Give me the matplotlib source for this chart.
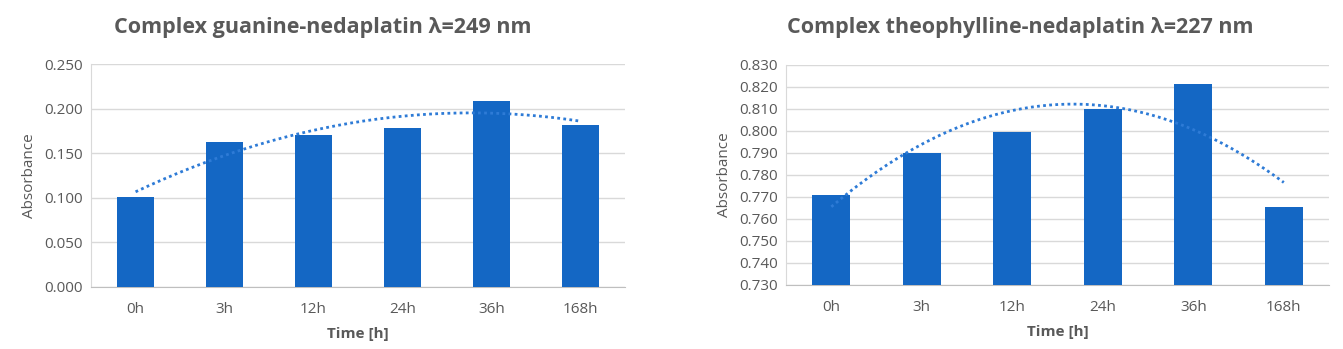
import numpy as np
import matplotlib.pyplot as plt

# data
times = ["0h", "3h", "12h", "24h", "36h", "168h"]
guanine_abs = [0.101, 0.162, 0.170, 0.178, 0.209, 0.182]
theoph_abs = [0.771, 0.790, 0.7995, 0.810, 0.8215, 0.7655]

titles = ["Complex guanine-nedaplatin λ=249 nm",
          "Complex theophylline-nedaplatin λ=227 nm"]
y_ticks_left = [0.000, 0.050, 0.100, 0.150, 0.200, 0.250]
y_ticks_right = [0.730, 0.740, 0.750, 0.760, 0.770, 0.780, 0.790,
                 0.800, 0.810, 0.820, 0.830]

bar_color = "#1467C4"
trend_color = "#2E7BD6"
text_color = "#595959"
grid_color = "#D9D9D9"

plt.rcParams['font.family'] = ['Open Sans', 'DejaVu Sans']

fig = plt.figure(figsize=(13.43, 3.49), dpi=100)
ax1 = fig.add_axes([0.0678, 0.1777, 0.3976, 0.6389])
ax2 = fig.add_axes([0.5853, 0.1834, 0.4043, 0.6304])


def draw_panel(ax, values, yticks, title, title_x):
    x = np.arange(len(times))
    ax.bar(x, values, width=0.42, color=bar_color, zorder=3)
    # Excel style 2nd order polynomial trendline
    coef = np.polyfit(x + 1, values, 2)
    xs = np.linspace(0, len(times) - 1, 200)
    ax.plot(xs, np.polyval(coef, xs + 1), linestyle=(0, (1, 1.2)),
            color=trend_color, linewidth=2, zorder=4)
    ax.set_xlim(-0.5, len(times) - 0.5)
    ax.set_ylim(yticks[0], yticks[-1])
    ax.set_yticks(yticks)
    ax.set_yticklabels([f"{t:.3f}" for t in yticks])
    ax.set_xticks(x)
    ax.set_xticklabels(times)
    ax.tick_params(colors=text_color, labelsize=11, length=0, pad=6)
    ax.tick_params(axis='x', pad=11)
    ax.grid(axis='y', color=grid_color, linewidth=1, zorder=0)
    for s in ['top', 'right']:
        ax.spines[s].set_visible(False)
    ax.spines['bottom'].set_color('#BFBFBF')
    ax.spines['left'].set_color(grid_color)
    ax.set_ylabel("Absorbance", color=text_color, fontsize=11, labelpad=5)
    ax.set_xlabel("Time [h]", color=text_color, fontsize=11,
                  fontweight='bold', labelpad=7)
    fig.text(title_x, 0.92, title, ha='center', va='center',
             fontsize=15.5, fontweight='bold', color=text_color)


draw_panel(ax1, guanine_abs, y_ticks_left, titles[0], 0.24)
draw_panel(ax2, theoph_abs, y_ticks_right, titles[1], 0.76)

fig.savefig("out.png", dpi=100, facecolor='white')
